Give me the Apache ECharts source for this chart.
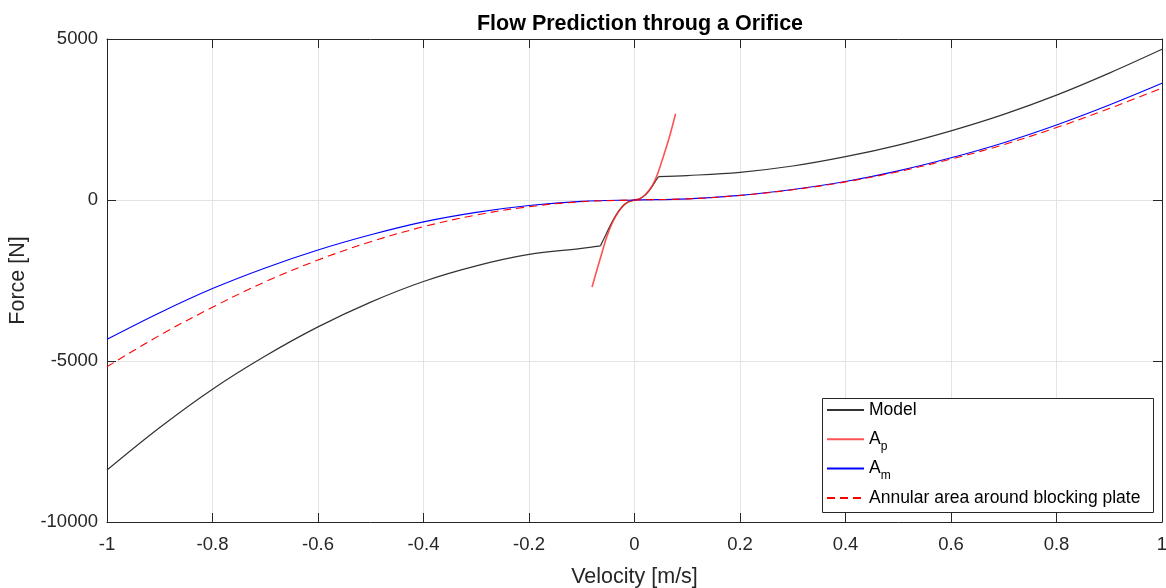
<!DOCTYPE html>
<html>
<head>
<meta charset="utf-8">
<script src="https://cdn.jsdelivr.net/npm/echarts@6/dist/echarts.min.js"></script>
<style>html,body{margin:0;padding:0;background:#fff;overflow:hidden}#c{width:1166px;height:588px}</style>
</head>
<body>
<div id="c"></div>
<script>
// ---- data ----
const xTicks = [-1, -0.8, -0.6, -0.4, -0.2, 0, 0.2, 0.4, 0.6, 0.8, 1];
const yTicks = [-10000, -5000, 0, 5000];

// Model (three branches, same legend entry)
const modelNeg = [[-1,-8386],[-0.9,-7065],[-0.8,-5875],[-0.7,-4845],[-0.6,-3940],[-0.5,-3170],[-0.4,-2530],[-0.3,-2045],[-0.2,-1690],[-0.1,-1500],[-0.0646,-1425]];
const modelMid = [[-0.0646,-1425],[-0.055,-1100],[-0.045,-760],[-0.035,-470],[-0.025,-240],[-0.015,-85],[0,0],[0.01,40],[0.02,150],[0.03,340],[0.038,540],[0.0455,724]];
const modelPos = [[0.0455,724],[0.1,758],[0.2,860],[0.3,1055],[0.4,1345],[0.5,1706],[0.6,2148],[0.7,2660],[0.8,3256],[0.9,3940],[1,4680]];

// A_p
const apData = [[-0.0805,-2700],[-0.0646,-1800],[-0.052,-1120],[-0.039,-600],[-0.0235,-220],[-0.01,-42],[0,0],[0.01,42],[0.021,170],[0.034,450],[0.043,780],[0.0525,1240],[0.0652,1900],[0.0779,2680]];

// A_m
const amData = [[-1,-4327],[-0.9,-3500],[-0.8,-2750],[-0.7,-2110],[-0.6,-1553],[-0.5,-1080],[-0.4,-680],[-0.3,-385],[-0.2,-172],[-0.1,-43],[0,0],[0.1,36],[0.2,145],[0.3,328],[0.4,575],[0.5,905],[0.6,1310],[0.7,1780],[0.8,2330],[0.9,2950],[1,3624]];

// Annular area around blocking plate
const annData = [[-1,-5177],[-0.9,-4200],[-0.8,-3330],[-0.7,-2540],[-0.6,-1864],[-0.5,-1295],[-0.4,-829],[-0.3,-466],[-0.2,-208],[-0.1,-52],[0,0],[0.1,35],[0.2,142],[0.3,318],[0.4,562],[0.5,880],[0.6,1270],[0.7,1720],[0.8,2250],[0.9,2840],[1,3480]];

const FONT = "'Liberation Sans', Arial, Helvetica, sans-serif";
const AX = '#262626';
const GRIDC = '#e3e3e3';

const chart = echarts.init(document.getElementById('c'), null, {renderer: 'canvas', width: 1166, height: 588});

function xAxisBase(pos, labels) {
  return {
    type: 'value', position: pos, min: xTicks[0], max: xTicks[xTicks.length-1], interval: 0.2,
    axisLine: {show: true, onZero: false, lineStyle: {color: AX, width: 1}},
    axisTick: {show: true, inside: true, length: 9, lineStyle: {color: AX}},
    axisLabel: {show: labels, color: '#262626', fontSize: 18.5, fontFamily: FONT, margin: 13,
      formatter: v => String(+v.toFixed(1))},
    splitLine: {show: labels, lineStyle: {color: GRIDC, width: 1}}
  };
}
function yAxisBase(pos, labels) {
  return {
    type: 'value', position: pos, min: yTicks[0], max: yTicks[yTicks.length-1], interval: 5000,
    axisLine: {show: true, onZero: false, lineStyle: {color: AX, width: 1}},
    axisTick: {show: true, inside: true, length: 9, lineStyle: {color: AX}},
    axisLabel: {show: labels, color: '#262626', fontSize: 18.5, fontFamily: FONT, margin: 9,
      formatter: v => String(v)},
    splitLine: {show: labels, lineStyle: {color: GRIDC, width: 1}}
  };
}

const xMain = xAxisBase('bottom', true);
xMain.name = 'Velocity [m/s]';
xMain.nameLocation = 'middle';
xMain.nameGap = 44;
xMain.nameTextStyle = {fontSize: 21.5, color: '#262626', fontFamily: FONT};
const yMain = yAxisBase('left', true);
yMain.name = 'Force [N]';
yMain.nameLocation = 'middle';
yMain.nameGap = 70;
yMain.nameTextStyle = {fontSize: 21.5, color: '#262626', fontFamily: FONT};

function lineSeries(name, data, color, width, type, z) {
  return {
    name: name, type: 'line', data: data, xAxisIndex: 0, yAxisIndex: 0,
    showSymbol: false, symbol: 'none', smooth: 0.35, z: z,
    lineStyle: {color: color, width: width, type: type},
    itemStyle: {color: color},
    emphasis: {disabled: true}
  };
}

const option = {
  animation: false,
  backgroundColor: '#ffffff',
  title: {
    text: 'Flow Prediction throug a Orifice',
    left: 635, top: 8, textAlign: 'center',
    textStyle: {fontSize: 21.5, fontWeight: 'bold', color: '#000', fontFamily: FONT}
  },
  grid: {left: 107, right: 4, top: 39, bottom: 66, containLabel: false, outerBoundsMode: 'none'},
  xAxis: [xMain, xAxisBase('top', false)],
  yAxis: [yMain, yAxisBase('right', false)],
  graphic: [{
    type: 'rect', z: 3, silent: true,
    shape: {x: 822.5, y: 398.5, width: 331, height: 114},
    style: {fill: '#ffffff', stroke: AX, lineWidth: 1}
  }],
  legend: {
    orient: 'vertical', left: 826, top: 397, padding: 0, itemGap: 3.3, z: 5,
    itemWidth: 37, itemHeight: 12,
    itemStyle: {opacity: 0, borderWidth: 0},
    data: ['Model', 'A_p', 'A_m', 'Annular area around blocking plate'],
    formatter: function (name) {
      if (name === 'A_p') return 'A{s|p}';
      if (name === 'A_m') return 'A{s|m}';
      return name;
    },
    textStyle: {fontSize: 17.5, color: '#000', fontFamily: FONT, lineHeight: 26,
      rich: {s: {fontSize: 12, lineHeight: 12, padding: [14, 0, 0, 0], fontFamily: FONT, color: '#000'}}}
  },
  series: [
    lineSeries('Model', modelNeg, '#333333', 1.2, 'solid', 2),
    lineSeries('Model', modelMid, '#333333', 1.2, 'solid', 2),
    lineSeries('Model', modelPos, '#333333', 1.2, 'solid', 2),
    lineSeries('A_p', apData, 'rgba(255,40,40,0.8)', 1.6, 'solid', 2),
    lineSeries('A_m', amData, '#0000ff', 1.1, 'solid', 2),
    lineSeries('Annular area around blocking plate', annData, '#ff0000', 1.1, [8, 5], 2)
  ]
};
chart.setOption(option);
</script>
</body>
</html>
